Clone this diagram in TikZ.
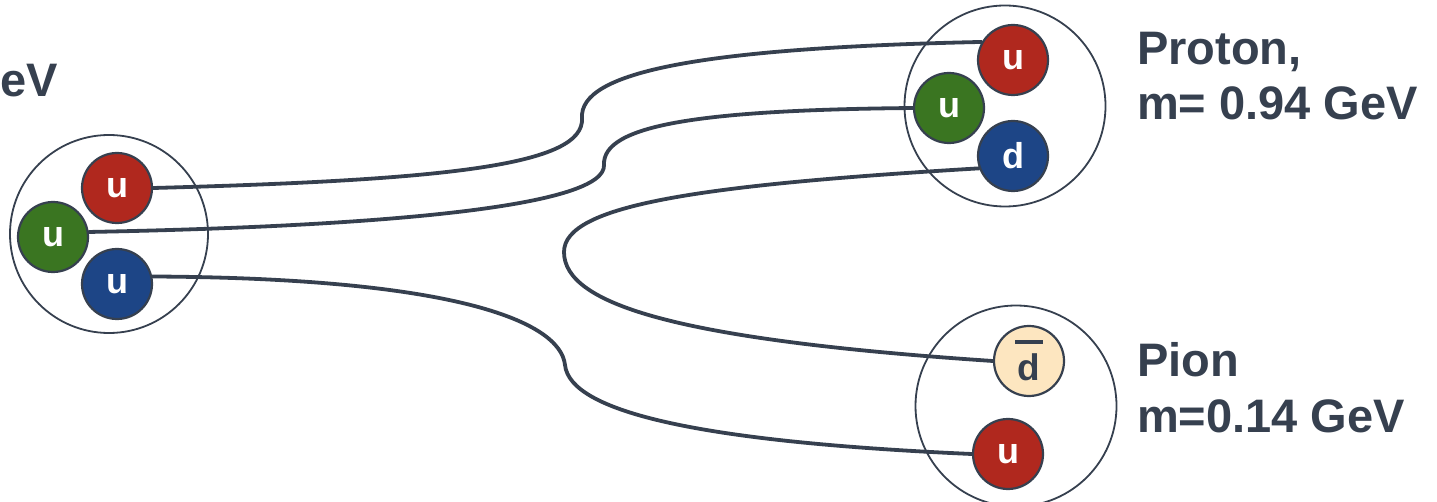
\documentclass[tikz,border=0pt]{standalone}
\usepackage{fontspec}
\setmainfont{Liberation Sans}
\definecolor{ink}{HTML}{36404F}
\definecolor{qred}{HTML}{B0281E}
\definecolor{qgreen}{HTML}{3A7521}
\definecolor{qblue}{HTML}{1D4586}
\definecolor{qbeige}{HTML}{FDE6C0}
\pgfdeclarelayer{background}
\pgfsetlayers{background,main}
\tikzset{
  hadron/.style={circle, draw=ink, line width=1.8pt, minimum size=200pt, inner sep=0pt},
  quark/.style={circle, draw=ink, line width=2.2pt, minimum size=70pt, inner sep=0pt,
                text=white, font=\fontsize{36}{40}\selectfont\bfseries},
  string/.style={draw=ink, line width=3.8pt, line cap=round},
  label/.style={anchor=base west, inner sep=0pt, text=ink, font=\fontsize{47}{55}\selectfont\bfseries}
}
\begin{document}
\begin{tikzpicture}[x=1pt,y=-1pt]
\useasboundingbox (0,0) rectangle (1437,502);
% hadrons
\node[hadron, minimum size=198pt] (left) at (109,234) {};
\node[hadron, minimum size=201pt] (proton) at (1005,106) {};
\node[hadron, minimum size=201pt] (pion) at (1016,406) {};
% quarks
\node[quark, fill=qred] (lu1) at (117,188) {u};
\node[quark, fill=qgreen] (lu2) at (53,237) {u};
\node[quark, fill=qblue] (lu3) at (117,284) {u};
\node[quark, fill=qred] (pu1) at (1013,60) {u};
\node[quark, fill=qgreen] (pu2) at (949,108) {u};
\node[quark, fill=qblue] (pd) at (1013,156) {d};
\node[quark, fill=qbeige] (pid) at (1029,361) {};
\node[anchor=base, inner sep=0pt, text=ink, font=\fontsize{37}{40}\selectfont\bfseries] (pidt) at (1029,381) {d};
\draw[draw=ink, line width=4.5pt] ([xshift=-14pt]pidt.north) ++(0,-12) coordinate (barl) -- ++(28,0) coordinate (barr);
\node[quark, fill=qred] (piu) at (1008,454) {u};
% strings
\begin{pgfonlayer}{background}
\draw[string] (lu1.east) .. controls (450,180) and (585,165) .. (582,118)
  .. controls (579,72) and (700,48) .. (pu1.150);
\draw[string] (lu2.8) .. controls (400,226) and (606,205) .. (604,165)
  .. controls (602,125) and (700,110) .. (pu2.west);
\draw[string] (pd.200) .. controls (700,185) and (564,205) .. (564,252)
  .. controls (564,305) and (680,340) .. (pid.west);
\draw[string] (lu3.12) .. controls (450,278) and (560,320) .. (565,365)
  .. controls (570,412) and (700,442) .. (piu.west);
\end{pgfonlayer}
% labels
\node[label] (eV) at (0,97) {eV};
\node[label] (pl1) at (1137,65) {Proton,};
\node[label] (pl2) at (1137,120) {m= 0.94 GeV};
\node[label] (pil1) at (1137,377) {Pion};
\node[label] (pil2) at (1137,432) {m=0.14 GeV};
\end{tikzpicture}
\end{document}
